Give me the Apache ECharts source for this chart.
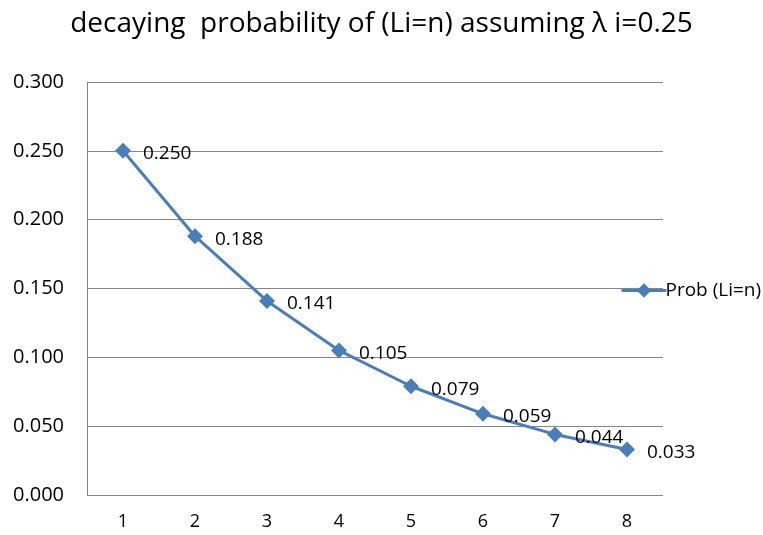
<!DOCTYPE html>
<html><head><meta charset="utf-8">
<script src="https://cdn.jsdelivr.net/npm/echarts@6/dist/echarts.min.js"></script>
<style>html,body{margin:0;padding:0;background:#fff}#c{width:763px;height:535px}</style>
</head><body><div id="c"></div>
<script>
const categories = ['1','2','3','4','5','6','7','8'];
const probValues = [0.250, 0.188, 0.141, 0.105, 0.079, 0.059, 0.044, 0.033];
const seriesName = 'Prob (Li=n)';
const titleText = 'decaying  probability of (Li=n) assuming \u03bb i=0.25';
const font = '"Open Sans", "Noto Sans", sans-serif';
const chart = echarts.init(document.getElementById('c'));
chart.setOption({
  animation: false,
  title: { text: titleText, left: 'center', top: 5,
    textStyle: { fontFamily: font, fontSize: 28, fontWeight: 'normal', color: '#000' } },
  legend: { data: [seriesName], orient: 'vertical', left: 615, top: 276,
    itemWidth: 45, itemHeight: 18, itemGap: 4,
    lineStyle: { width: 3 },
    textStyle: { fontFamily: font, fontSize: 19, color: '#000', padding: [0,0,0,-6] } },
  grid: { left: 87, right: 100, top: 82, bottom: 40, containLabel: false },
  xAxis: { type: 'category', data: categories, boundaryGap: true,
    axisLine: { show: false }, axisTick: { show: false },
    axisLabel: { fontFamily: font, fontSize: 18, color: '#000', margin: 18 } },
  yAxis: { type: 'value', min: 0, max: 0.3, interval: 0.05,
    axisLine: { show: true, lineStyle: { color: '#868686' } }, axisTick: { show: false },
    splitLine: { lineStyle: { color: '#868686' } },
    axisLabel: { fontFamily: font, fontSize: 20, color: '#000', margin: 23,
      formatter: v => v.toFixed(3) } },
  series: [{ name: seriesName, type: 'line', data: probValues,
    symbol: 'diamond', symbolSize: 16,
    lineStyle: { color: '#4a7ebb', width: 3 },
    itemStyle: { color: '#4a7ebb' },
    label: { show: true, position: 'right', distance: 12, offset: [0, 3],
      fontFamily: font, fontSize: 19, color: '#000',
      formatter: p => p.value.toFixed(3) } }]
});
</script></body></html>
